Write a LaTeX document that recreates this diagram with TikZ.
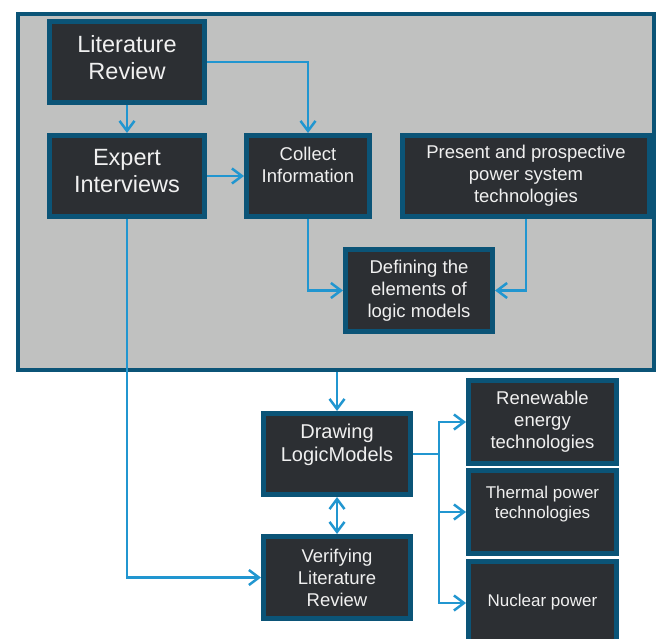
\documentclass[tikz,border=0pt]{standalone}
\usepackage{fontspec}
\setmainfont{Liberation Sans}
\usetikzlibrary{arrows.meta,positioning}

\definecolor{boxline}{HTML}{0B5477}
\definecolor{boxfill}{HTML}{2C2F33}
\definecolor{panelgray}{HTML}{C0C1C0}
\definecolor{flowblue}{HTML}{2196D0}

\tikzset{
  stage/.style={draw=boxline, fill=boxfill, line width=5pt, text=white!94!black,
    align=center, inner sep=0pt, font=\fontsize{18.5}{22}\selectfont},
  bigstage/.style={stage, font=\fontsize{23.5}{27}\selectfont},
  flow/.style={draw=flowblue, line width=2.5pt, -{Straight Barb[length=10pt,width=15pt]}},
}

\begin{document}
\begin{tikzpicture}[x=1pt,y=-1pt]
  \useasboundingbox (0,0) rectangle (659,639);
  \clip (0,0) rectangle (659,639);

  % grey panel round the first stages
  \node[draw=boxline, fill=panelgray, line width=4.5pt, minimum width=636pt, minimum height=356pt] (panel) at (336,192) {};

  \node[bigstage, minimum width=155pt, minimum height=81pt] (lit)     at (127,62)  {Literature\\Review\\[-17pt]~};
  \node[bigstage, minimum width=155pt, minimum height=81pt] (expert)  at (127,176) {Expert\\Interviews\\[-17pt]~};
  \node[stage, minimum width=123pt, minimum height=81pt]    (collect) at (308,176) {Collect\\Information\\~};
  \node[stage, minimum width=247pt, minimum height=81pt]    (present) at (526,176) {Present and prospective\\power system\\technologies};
  \node[stage, minimum width=147pt, minimum height=82pt]    (define)  at (419,290.5) {Defining the\\elements of\\logic models};

  \node[stage, minimum width=147pt, minimum height=81pt, font=\fontsize{20}{23}\selectfont] (drawing) at (337,454) {Drawing\\LogicModels\\~};
  \node[stage, minimum width=147pt, minimum height=82pt]    (verify)  at (337,577.5) {Verifying\\Literature\\Review};

  \node[stage, minimum width=148pt, minimum height=83pt]    (renew)   at (542.5,422) {Renewable\\energy\\technologies};
  \node[stage, minimum width=148pt, minimum height=83pt, font=\fontsize{17}{20}\selectfont] (thermal) at (542.5,512) {Thermal power\\technologies\\~};
  \node[stage, minimum width=148pt, minimum height=83pt, font=\fontsize{17}{20}\selectfont] (nuclear) at (542.5,603) {Nuclear power\\[-14pt]~};

  \coordinate (split) at (439,454);

  % connectors
  \draw[flow] (lit) -- (expert);
  \draw[flow] (lit.east) -| (collect.north);
  \draw[flow] (expert) -- (collect);
  \draw[flow] (collect.south) |- (define.west);
  \draw[flow] (present.south) |- (define.east);
  \draw[flow] (drawing.north |- panel.south) -- (drawing.north);
  \draw[flow, {Straight Barb[length=10pt,width=15pt]}-{Straight Barb[length=10pt,width=15pt]}] (drawing) -- (verify);
  \draw[flow] (expert.south) |- (verify.west);
  \draw[flow, -] (drawing.east) -- (split);
  \draw[flow] (split) |- (renew.west);
  \draw[flow] (split) |- (thermal.west);
  \draw[flow] (split) |- (nuclear.west);
\end{tikzpicture}
\end{document}
